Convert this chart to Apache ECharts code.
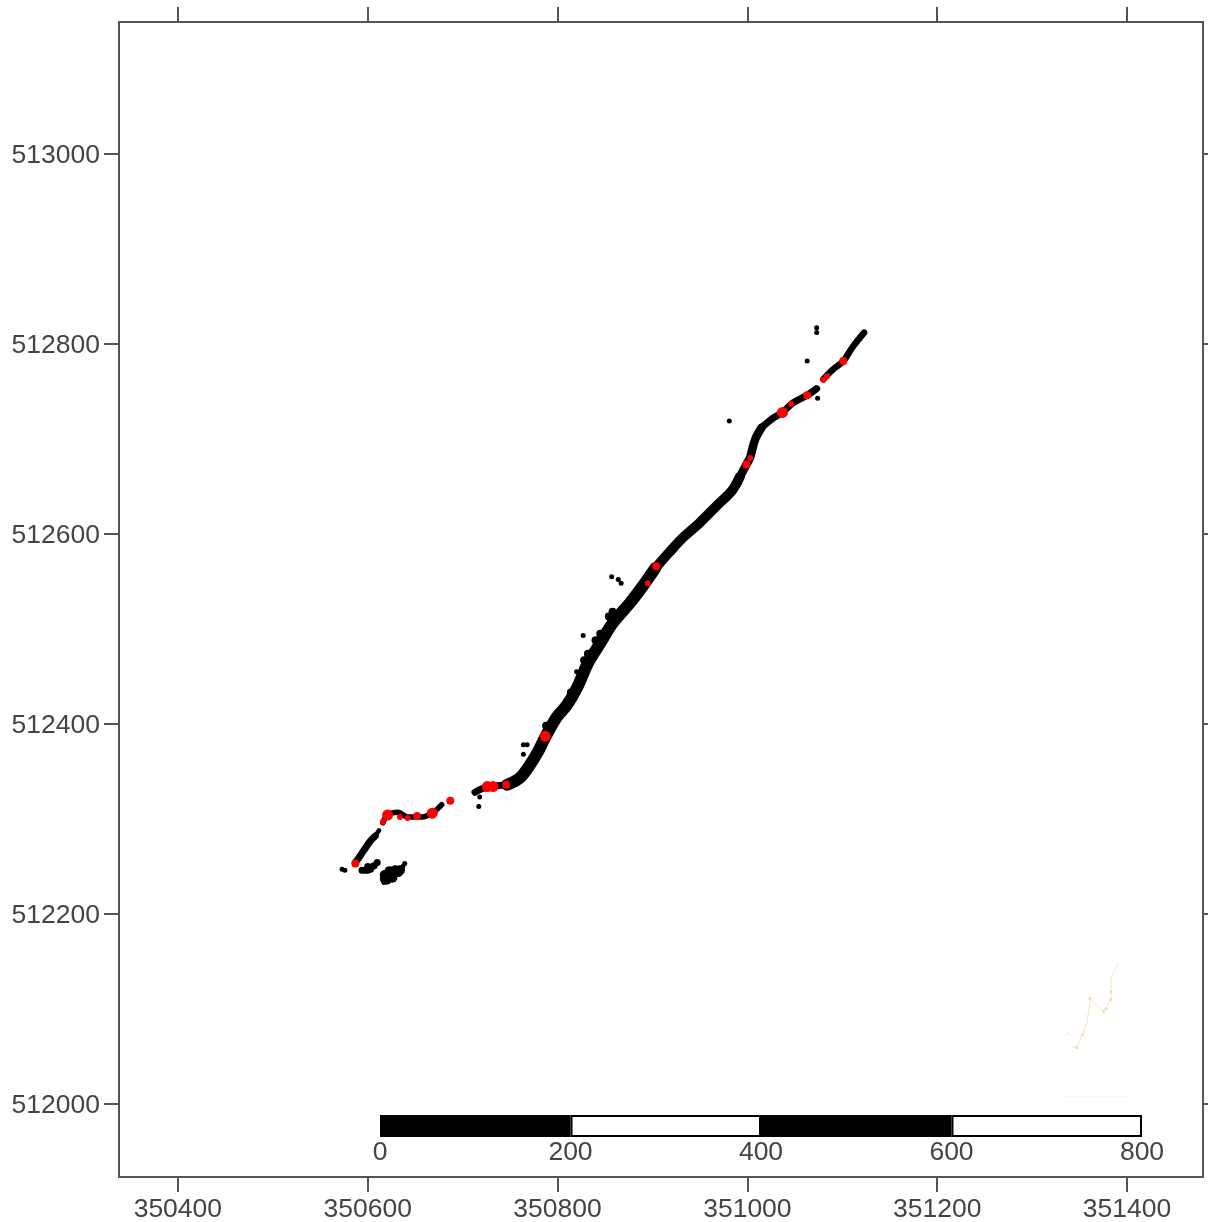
<!DOCTYPE html>
<html>
<head>
<meta charset="utf-8">
<style>html,body{margin:0;padding:0;background:#fff}#c{width:1208px;height:1222px}</style>
<script src="https://cdn.jsdelivr.net/npm/echarts@6/dist/echarts.min.js"></script>
</head>
<body>
<div id="c"></div>
<script>
const xTicks = [350400, 350600, 350800, 351000, 351200, 351400];
const yTicks = [512000, 512200, 512400, 512600, 512800, 513000];
const scaleSegments = [200, 200, 200, 200];

const lowerDiagonal = [[350587,512254],[350592,512261],[350598,512270],[350603,512277],[350608,512282]];
const lowerDiagonalEnd = [[350608,512282],[350612,512288]];
const westBend = [[350616,512296],[350621,512304],[350632,512307],[350642,512302],[350657,512302],[350669,512307],[350678,512315]];
const trackStart = [[350713,512328],[350721,512332],[350729,512334],[350747,512336]];
const trackLowerWide = [[350747,512336],[350760,512343],[350769,512354],[350779,512370],[350787,512386],[350799,512407],[350810,512420],[350821,512439],[350832,512464],[350845,512485],[350858,512506],[350876,512527],[350889,512544],[350903,512564]];
const trackMiddle = [[350903,512564],[350918,512581],[350932,512596],[350950,512612],[350968,512630],[350984,512646],[350992,512660]];
const trackBend = [[350992,512660],[351000,512675],[351003,512681],[351008,512699],[351015,512712]];
const trackUpper = [[351015,512712],[351027,512722],[351037,512728],[351048,512738],[351063,512746],[351073,512753]];
const trackTop = [[351080,512763],[351090,512773],[351101,512782],[351111,512797],[351123,512812]];

const bulges = [[350854,512513],[350858,512518],[350845,512495],[350840,512488],[350832,512474],[350828,512467],[350814,512433],[350788,512398]];
const smallCluster = [[350594,512246],[350600,512250],[350605,512250],[350610,512254],[350597,512246],[350603,512247],[350600,512246],[350607,512251]];
const largeCluster = [[350618,512237],[350618,512241],[350623,512240],[350623,512245],[350629,512243],[350629,512246],[350634,512246],[350626,512238],[350632,512244],[350620,512236],[350625,512242]];
const clusterTips = [[350637,512250],[350639,512253],[350617,512233]];
const strayPoints = [[350573,512247],[350576,512246],[350718,512323],[350717,512313],[350764,512378],[350768,512378],[350764,512368],[350827,512493],[350857,512555],[350867,512548],[350864,512552],[350820,512455],[351073,512817],[351073,512812],[351063,512782],[351074,512743],[350981,512719]];

const redLarge = [[350621,512304],[350787,512387],[351037,512728],[350726,512334],[350732,512334],[350668,512306]];
const redMedium = [[350587,512253],[350652,512303],[350687,512319],[350746,512336],[350904,512566],[350999,512673],[351063,512746],[351101,512782]];
const redSmall = [[350616,512297],[350634,512302],[350642,512301],[350895,512548],[351003,512680],[351046,512737],[351084,512766],[351080,512762]];

const faintTraceLow = [[351335,512072],[351338,512075],[351342,512071]];
const faintTraceHook = [[351342,512060],[351347,512059],[351353,512073],[351358,512086]];
const faintTraceRise = [[351358,512086],[351361,512111],[351366,512106],[351375,512097],[351383,512110],[351383,512133],[351391,512148]];
const faintClumps = [[351347,512059],[351353,512073],[351361,512111],[351375,512097],[351378,512100],[351383,512110],[351383,512118]];
const faintRule = [[351334,512008],[351401,512008]];

const INK = '#555555', TEXT = '#444444', FONT = '"Liberation Sans", Arial, sans-serif';
function track(data, width) {
  return {type:'line', xAxisIndex:0, yAxisIndex:0, data, symbol:'none', smooth:0.35, z:3,
    lineStyle:{color:'#000', width, cap:'round', join:'round'}};
}
function faint(data, color, width) {
  return {type:'line', xAxisIndex:0, yAxisIndex:0, data, symbol:'none', z:2, lineStyle:{color, width}};
}
function dots(data, size, color, z) {
  return {type:'scatter', xAxisIndex:0, yAxisIndex:0, data, symbolSize:size, z:z,
    itemStyle:{color, opacity:1}};
}
function xAxisMain(position, show) {
  return {type:'value', gridIndex:0, position, min:350338, max:351480, splitLine:{show:false},
    axisLine:{show:true, onZero:false, lineStyle:{color:INK, width:2}},
    axisTick:{show:true, length:15, customValues:xTicks, lineStyle:{color:INK, width:2}},
    axisLabel:{show, customValues:xTicks, margin:19, fontSize:26.5, fontFamily:FONT, color:TEXT, formatter:v=>String(v)}};
}
function yAxisMain(position, show) {
  return {type:'value', gridIndex:0, position, min:511923, max:513139, splitLine:{show:false},
    axisLine:{show:true, onZero:false, lineStyle:{color:INK, width:2}},
    axisTick:{show:true, length:15, customValues:yTicks, lineStyle:{color:INK, width:2}},
    axisLabel:{show, customValues:yTicks, margin:19, verticalAlign:'top', padding:[-12,0,0,0], fontSize:26.5, fontFamily:FONT, color:TEXT, formatter:v=>String(v)}};
}
const chart = echarts.init(document.getElementById('c'), null, {renderer:'canvas'});
chart.setOption({
  animation:false,
  backgroundColor:'#fff',
  grid:[
    {left:119, top:22, width:1084, height:1155, outerBoundsMode:'none'},
    {left:380, top:1115, width:762, height:22, outerBoundsMode:'none'}
  ],
  xAxis:[
    xAxisMain('bottom', true),
    xAxisMain('top', false),
    {type:'value', gridIndex:1, min:0, max:800, interval:200, splitLine:{show:false},
     axisLine:{show:false}, axisTick:{show:false},
     axisLabel:{margin:2, fontSize:26.5, fontFamily:FONT, color:TEXT, showMinLabel:true, showMaxLabel:true}}
  ],
  yAxis:[
    yAxisMain('left', true),
    yAxisMain('right', false),
    {type:'category', gridIndex:1, data:['scale'], show:false}
  ],
  series:[
    faint(faintTraceLow, '#f8e8d0', 1),
    faint(faintTraceHook, '#f8e4c6', 1),
    faint(faintTraceRise, '#f8e4c6', 1),
    faint(faintRule, '#f2f3f4', 1),
    dots(faintClumps, 3, '#f6d8ad', 2),
    track(lowerDiagonal, 7),
    track(lowerDiagonalEnd, 4.5),
    track(westBend, 5.5),
    track(trackStart, 7),
    track(trackLowerWide, 12),
    track(trackMiddle, 10),
    track(trackBend, 8.5),
    track(trackUpper, 7),
    track(trackTop, 6.5),
    dots(bulges, 8, '#000', 3),
    dots(smallCluster, 7, '#000', 3),
    dots(largeCluster, 10, '#000', 3),
    dots(clusterTips, 5, '#000', 3),
    dots(strayPoints, 5, '#000', 3),
    dots(redLarge, 11, '#ff0000', 5),
    dots(redMedium, 8, '#ff0000', 5),
    dots(redSmall, 6, '#ff0000', 5)
  ].concat(scaleSegments.map((v,i)=>({
    type:'bar', xAxisIndex:2, yAxisIndex:2, stack:'scale', barWidth:'100%', data:[v], z:6,
    itemStyle:{color:i%2===0?'#000':'#fff', borderColor:'#000', borderWidth:2}
  })))
});
</script>
</body>
</html>
